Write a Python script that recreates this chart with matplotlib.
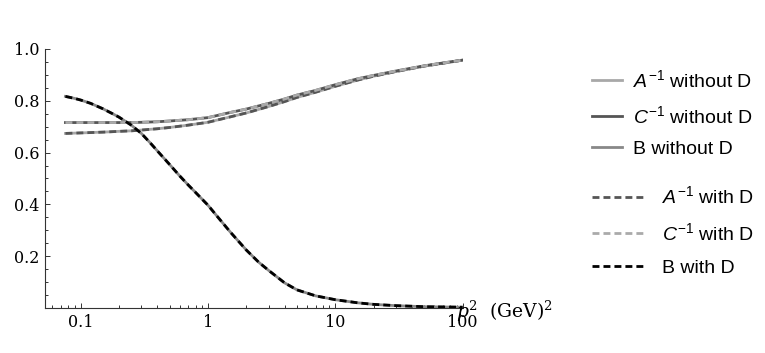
import matplotlib
matplotlib.use("Agg")
import matplotlib.pyplot as plt
from matplotlib.ticker import FixedLocator, FixedFormatter, LogLocator, MultipleLocator, NullFormatter

plt.rcParams['font.family'] = ['DejaVu Serif']
plt.rcParams['mathtext.fontset'] = 'custom'
plt.rcParams['mathtext.rm'] = 'Liberation Sans'
plt.rcParams['mathtext.it'] = 'Liberation Sans:italic'
plt.rcParams['mathtext.bf'] = 'Liberation Sans:bold'
plt.rcParams['lines.scale_dashes'] = False

# p^2 in GeV^2 for A^-1 / C^-1
p2_ac = [0.076, 0.1, 0.15, 0.2, 0.25, 0.3, 0.4, 0.5, 0.7, 1, 1.5, 2, 3, 4, 5, 7,
         10, 15, 20, 30, 50, 70, 100]
a_inv = [0.674, 0.676, 0.679, 0.682, 0.684, 0.687, 0.692, 0.697, 0.706, 0.717,
         0.738, 0.753, 0.778, 0.797, 0.813, 0.833, 0.856, 0.880, 0.895, 0.913,
         0.934, 0.945, 0.957]
c_inv = [0.716, 0.716, 0.716, 0.716, 0.716, 0.717, 0.719, 0.722, 0.727, 0.735,
         0.755, 0.768, 0.790, 0.807, 0.822, 0.840, 0.862, 0.885, 0.898, 0.915,
         0.935, 0.946, 0.957]

# p^2 for B
p2_b = [0.076, 0.09, 0.1, 0.12, 0.15, 0.18, 0.2, 0.25, 0.3, 0.35, 0.4, 0.5, 0.6,
        0.7, 0.8, 1, 1.2, 1.5, 2, 2.5, 3, 4, 5, 7, 10, 15, 20, 30, 50, 70, 100]
b_val = [0.817, 0.809, 0.803, 0.790, 0.769, 0.749, 0.737, 0.706, 0.674, 0.639,
         0.607, 0.554, 0.510, 0.475, 0.446, 0.397, 0.350, 0.293, 0.224, 0.177,
         0.145, 0.097, 0.070, 0.047, 0.032, 0.020, 0.014, 0.009, 0.005, 0.004,
         0.003]

xticks = [0.1, 1, 10, 100]
xtick_labels = ['0.1', '1', '10', '100']
yticks = [0.2, 0.4, 0.6, 0.8, 1.0]
ytick_labels = ['0.2', '0.4', '0.6', '0.8', '1.0']

fig = plt.figure(figsize=(7.65, 3.53), dpi=100)
ax = fig.add_axes([0.0588, 0.1275, 0.5459, 0.7337])

dash = (0, (5, 2.9))
lw = 2.0
h1, = ax.plot(p2_ac, a_inv, color='#a8a8a8', lw=lw, label=r'$A^{-1}$ without D')
h2, = ax.plot(p2_ac, c_inv, color='#555555', lw=lw, label=r'$C^{-1}$ without D')
h3, = ax.plot(p2_b, b_val, color='#888888', lw=lw, label='B without D')
h4, = ax.plot(p2_ac, a_inv, color='#555555', lw=lw, ls=dash, label=r'$A^{-1}$ with D')
h5, = ax.plot(p2_ac, c_inv, color='#aaaaaa', lw=lw, ls=dash, label=r'$C^{-1}$ with D')
h6, = ax.plot(p2_b, b_val, color='black', lw=lw, ls=dash, label='B with D')

ax.set_xscale('log')
ax.set_xlim(0.0525, 100)
ax.set_ylim(0, 1.0)

for s in ['top', 'right']:
    ax.spines[s].set_visible(False)
for s in ['left', 'bottom']:
    ax.spines[s].set_color('#333333')
    ax.spines[s].set_linewidth(0.8)

ax.xaxis.set_major_locator(FixedLocator(xticks))
ax.xaxis.set_major_formatter(FixedFormatter(xtick_labels))
ax.xaxis.set_minor_locator(LogLocator(base=10, subs=range(2, 10)))
ax.xaxis.set_minor_formatter(NullFormatter())
ax.yaxis.set_major_locator(FixedLocator(yticks))
ax.yaxis.set_major_formatter(FixedFormatter(ytick_labels))
ax.yaxis.set_minor_locator(MultipleLocator(0.05))

ax.tick_params(which='both', direction='in', color='#333333', width=0.7)
ax.tick_params(which='major', length=3.5, labelsize=11.5, pad=4)
ax.tick_params(which='minor', length=2)

ax.annotate(r'$p^2\ \ $(GeV)$^2$', xy=(1, 0), xycoords='axes fraction',
            xytext=(-7, -3), textcoords='offset pixels', ha='left', va='center',
            fontsize=13.5, family='DejaVu Serif', math_fontfamily='dejavuserif')

leg_font = {'family': 'Liberation Sans', 'size': 14}
leg1 = fig.legend(handles=[h1, h2, h3], loc='upper left',
                  bbox_to_anchor=(0.774, 0.805), frameon=False, prop=leg_font,
                  handlelength=1.55, handletextpad=0.55, labelspacing=0.72,
                  borderpad=0, borderaxespad=0)
leg2 = fig.legend(handles=[h4, h5, h6], loc='upper left',
                  bbox_to_anchor=(0.774, 0.474), frameon=False, prop=leg_font,
                  handlelength=2.65, handletextpad=0.95, labelspacing=0.76,
                  borderpad=0, borderaxespad=0)

fig.savefig('out.png', dpi=100)
